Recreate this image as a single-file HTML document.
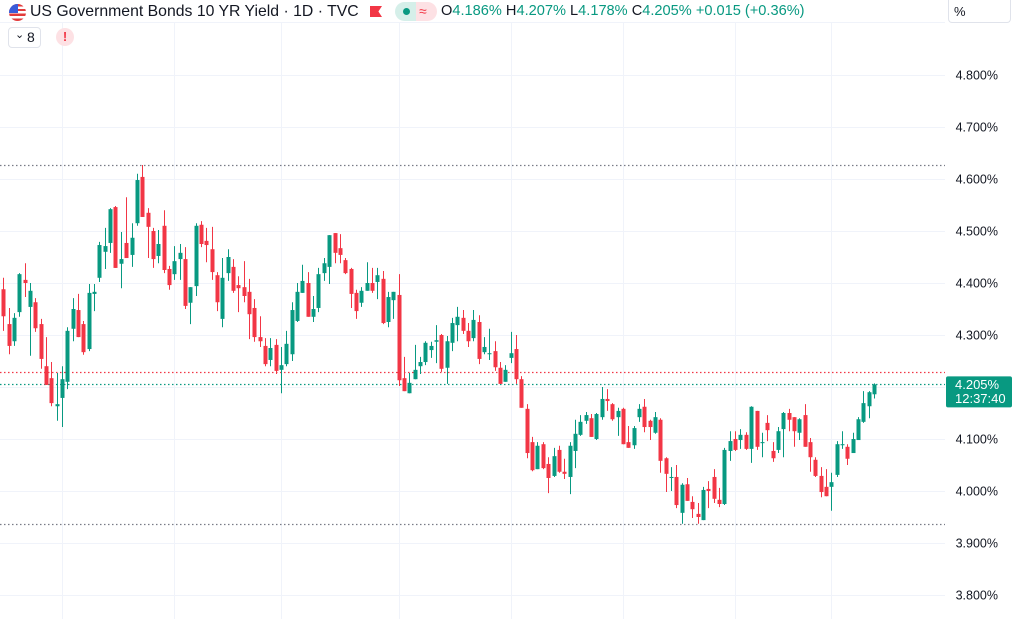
<!DOCTYPE html>
<html><head><meta charset="utf-8">
<style>
body{margin:0;width:1016px;height:619px;overflow:hidden;background:#fff;font-family:"Liberation Sans",sans-serif;color:#131722}
#chart{position:absolute;left:0;top:0}
.hdr{position:absolute;white-space:nowrap}
</style></head><body>
<svg id="chart" width="1016" height="619"></svg>

<div class="hdr" style="left:9px;top:4px;width:17px;height:17px;border-radius:50%;overflow:hidden;background:repeating-linear-gradient(#e23a3a 0 2.4px,#fff 2.4px 4.8px)"><div style="width:9px;height:9px;background:#3a5bd9"></div></div>
<div class="hdr" style="left:30px;top:2px;font-size:15.8px;line-height:20px">US Government Bonds 10 YR Yield · 1D · TVC</div>
<div class="hdr" style="left:370px;top:6px;width:12px;height:11px;background:#f23645;clip-path:polygon(0 0,100% 0,70% 50%,100% 100%,0 100%)"></div>
<div class="hdr" style="left:395px;top:2px;width:42px;height:19px;border-radius:10px;overflow:hidden;background:linear-gradient(90deg,#d5efe9 0 50%,#fde1e4 50% 100%)">
  <div style="position:absolute;left:8px;top:6px;width:7px;height:7px;border-radius:50%;background:#089981"></div>
  <div style="position:absolute;left:24px;top:0;font-size:14px;color:#f23645;line-height:19px">≈</div>
</div>
<div class="hdr" style="left:441px;top:2px;font-size:14.6px;line-height:19px;color:#089981">
<span style="color:#131722">O</span>4.186% <span style="color:#131722">H</span>4.207% <span style="color:#131722">L</span>4.178% <span style="color:#131722">C</span>4.205% +0.015 (+0.36%)</div>
<div class="hdr" style="left:8px;top:27px;width:31px;height:19px;border:1px solid #e0e3eb;border-radius:4px;font-size:14px;line-height:19px"><span style="position:absolute;left:6px;top:-2px;font-size:11px">⌄</span><span style="position:absolute;left:18px">8</span></div>
<div class="hdr" style="left:56px;top:28px;width:18px;height:18px;border-radius:50%;background:#fde1e4;color:#f23645;font-size:13px;font-weight:bold;text-align:center;line-height:18px">!</div>
<div class="hdr" style="left:948px;top:0;width:63px;height:23px;border:1px solid #e0e3eb;border-top:none;border-radius:0 0 4px 4px;font-size:13px;line-height:23px;padding-left:5px;box-sizing:border-box">%</div>

<script>
const opens=[4.388,4.321,4.288,4.344,4.406,4.354,4.363,4.321,4.240,4.217,4.163,4.179,4.210,4.312,4.348,4.321,4.273,4.379,4.410,4.460,4.477,4.546,4.437,4.477,4.454,4.515,4.604,4.535,4.500,4.452,4.510,4.427,4.417,4.446,4.446,4.362,4.394,4.512,4.481,4.465,4.415,4.331,4.419,4.431,4.396,4.392,4.383,4.352,4.296,4.279,4.252,4.281,4.233,4.244,4.263,4.327,4.381,4.400,4.335,4.352,4.419,4.431,4.496,4.467,4.444,4.427,4.381,4.362,4.385,4.400,4.402,4.408,4.325,4.367,4.377,4.217,4.188,4.215,4.240,4.248,4.271,4.287,4.300,4.237,4.285,4.319,4.333,4.308,4.294,4.325,4.267,4.263,4.269,4.237,4.210,4.256,4.273,4.215,4.158,4.094,4.042,4.090,4.052,4.029,4.079,4.037,4.027,4.077,4.108,4.135,4.140,4.100,4.142,4.177,4.167,4.142,4.158,4.094,4.088,4.142,4.162,4.135,4.112,4.137,4.063,4.025,4.027,3.958,4.013,3.979,3.956,3.944,4.004,4.027,3.983,3.975,4.077,4.100,4.098,4.108,4.081,4.154,4.092,4.131,4.077,4.079,4.119,4.150,4.142,4.112,4.146,4.094,4.060,4.029,4.008,4.008,4.031,4.088,4.085,4.073,4.098,4.133,4.163,4.186];
const highs=[4.410,4.352,4.342,4.419,4.438,4.400,4.371,4.331,4.296,4.248,4.227,4.240,4.315,4.371,4.379,4.327,4.398,4.398,4.479,4.506,4.544,4.548,4.498,4.565,4.515,4.610,4.627,4.544,4.506,4.502,4.540,4.433,4.471,4.475,4.469,4.392,4.515,4.519,4.506,4.508,4.421,4.448,4.465,4.446,4.413,4.442,4.408,4.369,4.336,4.294,4.294,4.292,4.277,4.308,4.363,4.400,4.435,4.421,4.375,4.429,4.448,4.492,4.496,4.494,4.448,4.429,4.387,4.392,4.440,4.429,4.429,4.423,4.383,4.383,4.417,4.258,4.227,4.281,4.258,4.288,4.287,4.319,4.302,4.298,4.333,4.354,4.348,4.323,4.348,4.338,4.296,4.312,4.288,4.248,4.242,4.306,4.300,4.221,4.167,4.104,4.094,4.094,4.065,4.083,4.087,4.062,4.094,4.137,4.146,4.152,4.148,4.150,4.200,4.196,4.169,4.160,4.160,4.125,4.125,4.167,4.177,4.137,4.152,4.140,4.065,4.046,4.050,4.015,4.025,3.990,3.977,4.008,4.019,4.042,4.006,4.083,4.115,4.115,4.119,4.113,4.163,4.154,4.112,4.146,4.094,4.123,4.152,4.158,4.142,4.140,4.167,4.102,4.065,4.046,4.042,4.035,4.096,4.115,4.090,4.112,4.142,4.192,4.192,4.207];
const lows=[4.308,4.263,4.279,4.335,4.373,4.260,4.306,4.235,4.204,4.163,4.135,4.123,4.196,4.288,4.296,4.262,4.269,4.346,4.402,4.427,4.458,4.429,4.390,4.448,4.431,4.510,4.527,4.448,4.429,4.438,4.419,4.387,4.406,4.406,4.350,4.321,4.375,4.469,4.440,4.406,4.346,4.315,4.404,4.381,4.344,4.363,4.292,4.287,4.277,4.240,4.240,4.225,4.188,4.240,4.250,4.325,4.381,4.335,4.325,4.344,4.404,4.398,4.438,4.438,4.417,4.352,4.331,4.354,4.385,4.381,4.369,4.321,4.315,4.331,4.202,4.192,4.188,4.215,4.225,4.242,4.256,4.246,4.229,4.206,4.269,4.288,4.302,4.277,4.288,4.244,4.263,4.252,4.231,4.206,4.210,4.246,4.206,4.160,4.063,4.038,4.042,4.042,3.996,4.027,4.035,4.023,3.994,4.044,4.106,4.129,4.104,4.098,4.137,4.154,4.135,4.106,4.090,4.083,4.081,4.133,4.113,4.098,4.110,4.035,3.998,4.000,3.967,3.937,3.981,3.948,3.937,3.944,3.967,3.977,3.969,3.973,4.058,4.077,4.081,4.079,4.054,4.079,4.065,4.096,4.056,4.073,4.065,4.115,4.085,4.098,4.085,4.037,4.027,3.988,3.990,3.962,4.027,4.081,4.050,4.073,4.098,4.131,4.140,4.178];
const closes=[4.336,4.279,4.333,4.417,4.400,4.385,4.313,4.254,4.204,4.169,4.167,4.215,4.308,4.350,4.296,4.267,4.381,4.383,4.473,4.471,4.542,4.429,4.446,4.448,4.487,4.598,4.527,4.508,4.446,4.475,4.425,4.396,4.442,4.458,4.356,4.392,4.510,4.475,4.473,4.421,4.363,4.410,4.450,4.385,4.390,4.375,4.340,4.296,4.288,4.244,4.275,4.231,4.242,4.283,4.348,4.383,4.404,4.335,4.350,4.417,4.438,4.492,4.458,4.454,4.419,4.379,4.346,4.385,4.400,4.385,4.415,4.323,4.373,4.383,4.213,4.192,4.208,4.233,4.248,4.285,4.279,4.290,4.235,4.288,4.323,4.335,4.308,4.288,4.329,4.254,4.277,4.265,4.238,4.206,4.233,4.265,4.215,4.160,4.073,4.040,4.087,4.044,4.025,4.067,4.037,4.033,4.087,4.110,4.133,4.146,4.104,4.148,4.177,4.173,4.138,4.154,4.090,4.083,4.121,4.158,4.123,4.123,4.142,4.058,4.033,4.027,3.973,4.012,3.981,3.965,3.950,4.002,4.000,3.985,3.975,4.079,4.096,4.079,4.108,4.081,4.162,4.085,4.094,4.117,4.063,4.115,4.150,4.137,4.115,4.138,4.085,4.065,4.029,3.998,3.990,4.017,4.090,4.090,4.062,4.100,4.138,4.169,4.190,4.205];
const tickValues=[4.8,4.7,4.6,4.5,4.4,4.3,4.2,4.1,4.0,3.9,3.8];
const tickLabels=["4.800%","4.700%","4.600%","4.500%","4.400%","4.300%","4.200%","4.100%","4.000%","3.900%","3.800%"];
const lastPrice=4.205, prevClose=4.228, rangeHigh=4.627, rangeLow=3.937;
const timeGridIdx=[11,32,52,74,95,116,137,155];

const svg=document.getElementById('chart');
const NS='http://www.w3.org/2000/svg';
const plotRight=945;
function yScale(v){return 75+(4.8-v)*520;}
function xScale(i){return 3.3+i*5.342;}
function mk(tag,attrs){const e=document.createElementNS(NS,tag);for(const k in attrs)e.setAttribute(k,attrs[k]);svg.appendChild(e);return e;}

const hl=mk('line',{x1:0,x2:plotRight,y1:22.5,y2:22.5,stroke:'#f0f3fa'});


timeGridIdx.forEach(i=>{
  const x=Math.round(xScale(i))+0.5;
  const g=mk('line',{x1:x,x2:x,y1:22,y2:619,stroke:'#f0f3fa'});
  
  
});
tickValues.forEach((v,k)=>{
  const y=Math.round(yScale(v))+0.5;
  const g=mk('line',{x1:0,x2:plotRight,y1:y,y2:y,stroke:'#f0f3fa'});
  
  
  const t=mk('text',{x:998,y:y+4,'text-anchor':'end','font-size':'12.5','font-family':'Liberation Sans, sans-serif',fill:'#131722'});
  t.textContent=tickLabels[k];
  
  
});
function dotted(v,color,name){
  const y=Math.round(yScale(v))+0.5;
  const l=mk('line',{x1:0,x2:plotRight,y1:y,y2:y,stroke:color,'stroke-dasharray':'1.5 2.5','stroke-width':1.2});
  
  
}
dotted(rangeHigh,'#787b86','high-price-line');
dotted(rangeLow,'#787b86','low-price-line');
dotted(prevClose,'#f23645','previous-close-line');
dotted(lastPrice,'#089981','last-price-line');

for(let i=0;i<opens.length;i++){
  const up=closes[i]>=opens[i];
  const col=up?'#089981':'#f23645';
  const cx=Math.round(xScale(i))+0.5;
  const w=mk('line',{x1:cx,x2:cx,y1:yScale(highs[i]),y2:yScale(lows[i]),stroke:col,'stroke-width':1});
  
  
  const top=yScale(Math.max(opens[i],closes[i])),bot=yScale(Math.min(opens[i],closes[i]));
  const b=mk('rect',{x:cx-2,y:top,width:4,height:Math.max(1,bot-top),fill:col});
  
  
}

const ly=yScale(lastPrice);
const lb=mk('rect',{x:946,y:ly-8,width:66,height:31,fill:'#089981',rx:2});


const lt=mk('text',{x:955,y:ly+4.5,'font-size':'13','font-family':'Liberation Sans, sans-serif',fill:'#fff'});
lt.textContent=lastPrice.toFixed(3)+'%';


const ct=mk('text',{x:955,y:ly+18.5,'font-size':'13','font-family':'Liberation Sans, sans-serif',fill:'#fff'});
ct.textContent='12:37:40';


</script>
</body></html>
